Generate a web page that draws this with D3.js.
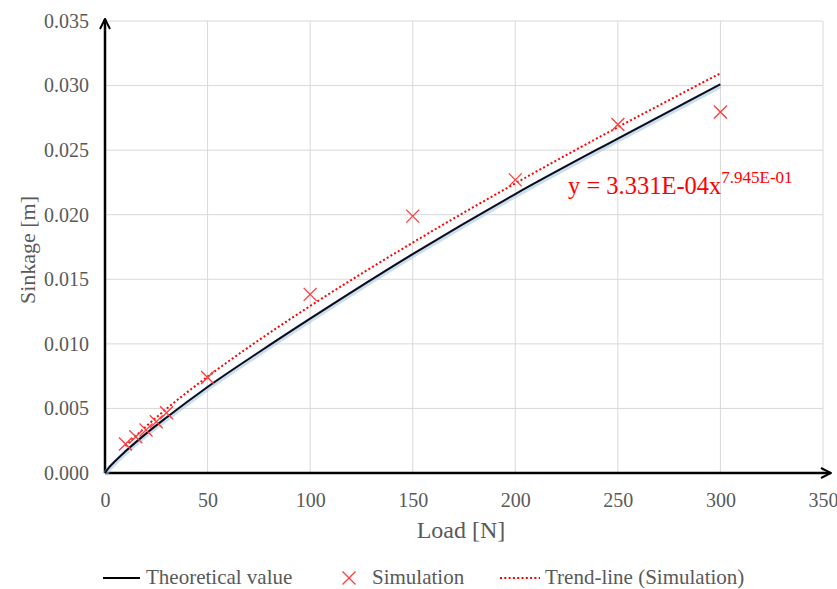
<!DOCTYPE html>
<html>
<head>
<meta charset="utf-8">
<script src="https://cdn.jsdelivr.net/npm/d3@7"></script>
<style>
  body { margin: 0; background: #fff; }
  text { font-family: "Liberation Serif", "Times New Roman", serif; }
</style>
</head>
<body>
<script>
// data
var simLoad = [10, 15, 20, 25, 30, 50, 100, 150, 200, 250, 300];
var simSinkage = [0.00224, 0.00281, 0.00333, 0.00397, 0.00467, 0.00740, 0.01383, 0.01989, 0.02270, 0.02699, 0.02795];

var theoLoad = [0, 2, 5, 10, 20, 30, 50, 75, 100, 150, 200, 250, 300];
var theoSinkage = [0, 0.00043, 0.00093, 0.00168, 0.00305, 0.00430, 0.00666, 0.00935, 0.01195, 0.01695, 0.02160, 0.02590, 0.03010];

var trendLoad = [10, 20, 30, 50, 75, 100, 150, 200, 250, 300];
var trendSinkage = [0.00208, 0.00360, 0.00497, 0.00746, 0.01029, 0.01293, 0.01784, 0.02243, 0.02678, 0.03095];

var xTicks = [0, 50, 100, 150, 200, 250, 300, 350];
var yTicks = [0, 0.005, 0.010, 0.015, 0.020, 0.025, 0.030, 0.035];

var W = 837, H = 589;
var svg = d3.select("body").append("svg")
    .attr("width", W)
    .attr("height", H);

var x = d3.scaleLinear().domain([0, 350]).range([105, 823]);
var y = d3.scaleLinear().domain([0, 0.035]).range([473, 21]);

var grey = "#595959";

// grid
svg.append("g")
    .selectAll("line.v")
    .data(xTicks.slice(1))
    .enter().append("line")
    .attr("x1", function (d) { return x(d); })
    .attr("x2", function (d) { return x(d); })
    .attr("y1", y(0))
    .attr("y2", y(0.035))
    .attr("stroke", "#d9d9d9")
    .attr("stroke-width", 1);

svg.append("g")
    .selectAll("line.h")
    .data(yTicks.slice(1))
    .enter().append("line")
    .attr("x1", x(0))
    .attr("x2", x(350))
    .attr("y1", function (d) { return y(d); })
    .attr("y2", function (d) { return y(d); })
    .attr("stroke", "#d9d9d9")
    .attr("stroke-width", 1);

// axes (tick labels only, lines drawn as arrows)
var xAxis = svg.append("g")
    .attr("transform", "translate(0," + y(0) + ")")
    .call(d3.axisBottom(x).tickValues(xTicks).tickSize(0).tickPadding(20));
var yAxis = svg.append("g")
    .attr("transform", "translate(" + x(0) + ",0)")
    .call(d3.axisLeft(y).tickValues(yTicks).tickFormat(d3.format(".3f")).tickSize(0).tickPadding(16));

[xAxis, yAxis].forEach(function (a) {
    a.select(".domain").remove();
    a.selectAll("text")
        .attr("fill", grey)
        .style("font-size", "20px")
        .style("font-family", "'Liberation Serif', serif");
});

// arrow axes
svg.append("defs").append("marker")
    .attr("id", "arrow")
    .attr("viewBox", "0 0 12 12")
    .attr("refX", 11)
    .attr("refY", 6)
    .attr("markerWidth", 12)
    .attr("markerHeight", 12)
    .attr("markerUnits", "userSpaceOnUse")
    .attr("orient", "auto")
    .append("path")
    .attr("d", "M1,1 L11,6 L1,11")
    .attr("fill", "none")
    .attr("stroke", "#000")
    .attr("stroke-width", 2);

svg.append("line")
    .attr("x1", x(0)).attr("y1", y(0))
    .attr("x2", 831).attr("y2", y(0))
    .attr("stroke", "#000").attr("stroke-width", 2.5)
    .attr("marker-end", "url(#arrow)");
svg.append("line")
    .attr("x1", x(0)).attr("y1", y(0))
    .attr("x2", x(0)).attr("y2", 19)
    .attr("stroke", "#000").attr("stroke-width", 2.5)
    .attr("marker-end", "url(#arrow)");

// axis titles
svg.append("text")
    .attr("x", 461).attr("y", 538)
    .attr("text-anchor", "middle")
    .attr("fill", grey)
    .style("font-size", "24px")
    .text("Load [N]");
svg.append("text")
    .attr("transform", "translate(35,250) rotate(-90)")
    .attr("text-anchor", "middle")
    .attr("fill", grey)
    .style("font-size", "22px")
    .text("Sinkage [m]");

// theoretical line with soft blue shadow
var line = d3.line()
    .x(function (d) { return x(d[0]); })
    .y(function (d) { return y(d[1]); })
    .curve(d3.curveMonotoneX);

var theo = d3.zip(theoLoad, theoSinkage);
svg.append("path")
    .datum(theo)
    .attr("d", line)
    .attr("transform", "translate(0,1.5)")
    .attr("fill", "none")
    .attr("stroke", "#a9c8e6")
    .attr("stroke-width", 5)
    .attr("stroke-opacity", 0.6);
svg.append("path")
    .datum(theo)
    .attr("d", line)
    .attr("fill", "none")
    .attr("stroke", "#0d0d1a")
    .attr("stroke-width", 2);

// trend line
svg.append("path")
    .datum(d3.zip(trendLoad, trendSinkage))
    .attr("d", line)
    .attr("fill", "none")
    .attr("stroke", "#ff0000")
    .attr("stroke-width", 2)
    .attr("stroke-dasharray", "2,2.3");

// simulation markers
var s = 6.5;
svg.append("g")
    .selectAll("path")
    .data(d3.zip(simLoad, simSinkage))
    .enter().append("path")
    .attr("d", function (d) {
        var cx = x(d[0]), cy = y(d[1]);
        return "M" + (cx - s) + "," + (cy - s) + "L" + (cx + s) + "," + (cy + s) +
            "M" + (cx - s) + "," + (cy + s) + "L" + (cx + s) + "," + (cy - s);
    })
    .attr("fill", "none")
    .attr("stroke", "#ff3b3b")
    .attr("stroke-width", 1.3);

// equation
var eq = svg.append("text")
    .attr("x", 568).attr("y", 194)
    .attr("fill", "#ff0000")
    .style("font-size", "24.5px");
eq.append("tspan").text("y = 3.331E-04x");
eq.append("tspan")
    .attr("dy", -11)
    .style("font-size", "17px")
    .text("7.945E-01");

// legend
var ly = 578;
var lg = svg.append("g");
lg.append("line")
    .attr("x1", 103).attr("x2", 140).attr("y1", ly).attr("y2", ly)
    .attr("stroke", "#000").attr("stroke-width", 2);
lg.append("text").attr("x", 146).attr("y", ly + 6)
    .attr("fill", grey).style("font-size", "21px").text("Theoretical value");
lg.append("path")
    .attr("d", "M" + (349 - s) + "," + (ly - s) + "L" + (349 + s) + "," + (ly + s) +
        "M" + (349 - s) + "," + (ly + s) + "L" + (349 + s) + "," + (ly - s))
    .attr("stroke", "#ff3b3b").attr("stroke-width", 1.3).attr("fill", "none");
lg.append("text").attr("x", 372).attr("y", ly + 6)
    .attr("fill", grey).style("font-size", "21px").text("Simulation");
lg.append("line")
    .attr("x1", 500).attr("x2", 540).attr("y1", ly).attr("y2", ly)
    .attr("stroke", "#ff0000").attr("stroke-width", 2)
    .attr("stroke-dasharray", "2,2.3");
lg.append("text").attr("x", 545).attr("y", ly + 6)
    .attr("fill", grey).style("font-size", "21px").text("Trend-line (Simulation)");
</script>
</body>
</html>
